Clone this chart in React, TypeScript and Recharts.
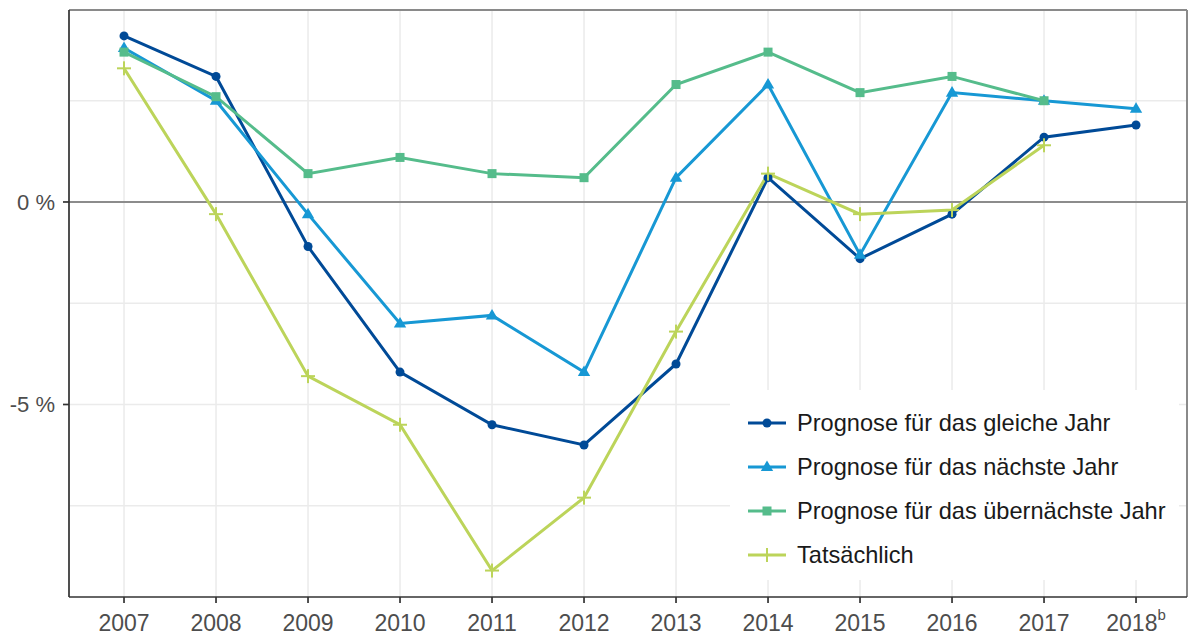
import React from 'react';
import { LineChart, Line, XAxis, YAxis, CartesianGrid, ReferenceLine } from 'recharts';

const years = [2007, 2008, 2009, 2010, 2011, 2012, 2013, 2014, 2015, 2016, 2017, 2018];
const xTickLabels = ['2007', '2008', '2009', '2010', '2011', '2012', '2013', '2014', '2015', '2016', '2017', '2018'];
const xTickSuperscripts = ['', '', '', '', '', '', '', '', '', '', '', 'b'];
const gleichesJahr = [4.1, 3.1, -1.1, -4.2, -5.5, -6.0, -4.0, 0.6, -1.4, -0.3, 1.6, 1.9];
const naechstesJahr = [3.8, 2.5, -0.3, -3.0, -2.8, -4.2, 0.6, 2.9, -1.3, 2.7, 2.5, 2.3];
const uebernaechstesJahr = [3.7, 2.6, 0.7, 1.1, 0.7, 0.6, 2.9, 3.7, 2.7, 3.1, 2.5, null];
const tatsaechlich = [3.3, -0.3, -4.3, -5.5, -9.1, -7.3, -3.2, 0.7, -0.3, -0.2, 1.4, null];
const yTicks = [0, -5];
const minorGrid = [-7.5, -5, -2.5, 2.5];

const seriesNames = [
  'Prognose für das gleiche Jahr',
  'Prognose für das nächste Jahr',
  'Prognose für das übernächste Jahr',
  'Tatsächlich',
];
const seriesKeys = ['gleich', 'naechst', 'uebernaechst', 'tats'];
const seriesColors = ['#004a97', '#1798d4', '#55bc8b', '#bcd45a'];
const seriesShapes = ['circle', 'triangle', 'square', 'plus'];

const data = years.map((y, i) => ({
  year: y,
  gleich: gleichesJahr[i],
  naechst: naechstesJahr[i],
  uebernaechst: uebernaechstesJahr[i],
  tats: tatsaechlich[i],
}));

const X_DOMAIN: [number, number] = [2006.402, 2018.554];
const Y_DOMAIN: [number, number] = [-9.753, 4.74];

function Marker({ shape, cx, cy, color }: { shape: string; cx: number; cy: number; color: string }) {
  if (shape === 'circle') return <circle cx={cx} cy={cy} r={4.5} fill={color} />;
  if (shape === 'triangle') {
    const s = 6.5;
    return (
      <polygon
        points={`${cx},${cy - s} ${cx - s * 0.95},${cy + s * 0.62} ${cx + s * 0.95},${cy + s * 0.62}`}
        fill={color}
      />
    );
  }
  if (shape === 'square') return <rect x={cx - 4.5} y={cy - 4.5} width={9} height={9} fill={color} />;
  return (
    <g stroke={color} strokeWidth={2}>
      <line x1={cx - 7} y1={cy} x2={cx + 7} y2={cy} />
      <line x1={cx} y1={cy - 7} x2={cx} y2={cy + 7} />
    </g>
  );
}

const makeDot = (shape: string, color: string) => (props: any) => {
  const { cx, cy, index, value } = props;
  if (cx == null || cy == null || value == null || (Array.isArray(value) && value[1] == null)) {
    return <g key={`e-${shape}-${index}`} />;
  }
  return (
    <g key={`d-${shape}-${index}`}>
      <Marker shape={shape} cx={cx} cy={cy} color={color} />
    </g>
  );
};

const XTick = (props: any) => {
  const { x, y, payload } = props;
  const idx = years.indexOf(payload.value);
  const label = xTickLabels[idx] ?? String(payload.value);
  const sup = xTickSuperscripts[idx] ?? '';
  return (
    <text
      x={x}
      y={y}
      dy={24}
      textAnchor="middle"
      fill="#4d4d4d"
      fontSize={23}
      fontFamily="'Liberation Sans', Arial, sans-serif"
    >
      {label}
      {sup ? (
        <tspan fontSize={15} dy={-11}>
          {sup}
        </tspan>
      ) : null}
    </text>
  );
};

function LegendBox() {
  return (
    <div
      style={{
        position: 'absolute',
        left: 730,
        top: 390,
        width: 449,
        height: 190,
        background: '#fff',
        paddingTop: 11,
        boxSizing: 'border-box',
        fontFamily: "'Liberation Sans', Arial, sans-serif",
        fontSize: 23.6,
        color: '#1a1a1a',
      }}
    >
      {seriesNames.map((name, i) => (
        <div key={name} style={{ height: 44, display: 'flex', alignItems: 'center' }}>
          <svg width={38} height={20} style={{ marginLeft: 18, marginRight: 11 }}>
            <line x1={0} y1={10} x2={38} y2={10} stroke={seriesColors[i]} strokeWidth={3} />
            <Marker shape={seriesShapes[i]} cx={19} cy={10} color={seriesColors[i]} />
          </svg>
          <span style={{ whiteSpace: 'nowrap', lineHeight: '44px' }}>{name}</span>
        </div>
      ))}
    </div>
  );
}

export default function App() {
  return (
    <div style={{ position: 'absolute', left: 0, top: 0, width: 1189, height: 638, background: '#fff' }}>
      <LineChart
        width={1189}
        height={638}
        data={data}
        margin={{ top: 10, right: 2, bottom: 0, left: 0 }}
      >
        <CartesianGrid horizontal={false} vertical={true} stroke="#ebebeb" strokeWidth={1.5} />
        {minorGrid.map((v) => (
          <ReferenceLine key={`g${v}`} y={v} stroke="#ebebeb" strokeWidth={1.5} />
        ))}
        <ReferenceLine y={0} stroke="#8c8c8c" strokeWidth={2} />
        <ReferenceLine y={Y_DOMAIN[1]} stroke="#8a8a8a" strokeWidth={2} />
        <ReferenceLine x={X_DOMAIN[1]} stroke="#8a8a8a" strokeWidth={2} />
        <XAxis
          dataKey="year"
          type="number"
          domain={X_DOMAIN}
          ticks={years}
          interval={0}
          allowDataOverflow
          height={41}
          tickSize={6}
          tickMargin={4}
          axisLine={{ stroke: '#333333', strokeWidth: 1.7 }}
          tickLine={{ stroke: '#333333', strokeWidth: 1.7 }}
          tick={<XTick />}
        />
        <YAxis
          type="number"
          domain={Y_DOMAIN}
          ticks={yTicks}
          allowDataOverflow
          width={69}
          tickSize={6}
          tickMargin={8}
          axisLine={{ stroke: '#333333', strokeWidth: 1.7 }}
          tickLine={{ stroke: '#333333', strokeWidth: 1.7 }}
          tickFormatter={(v: number) => `${v} %`}
          tick={{ fill: '#4d4d4d', fontSize: 22, fontFamily: "'Liberation Sans', Arial, sans-serif" }}
        />
        {seriesKeys.map((k, i) => (
          <Line
            key={k}
            type="linear"
            dataKey={k}
            name={seriesNames[i]}
            stroke={seriesColors[i]}
            strokeWidth={3}
            dot={makeDot(seriesShapes[i], seriesColors[i])}
            activeDot={false}
            isAnimationActive={false}
          />
        ))}
      </LineChart>
      <LegendBox />
    </div>
  );
}
